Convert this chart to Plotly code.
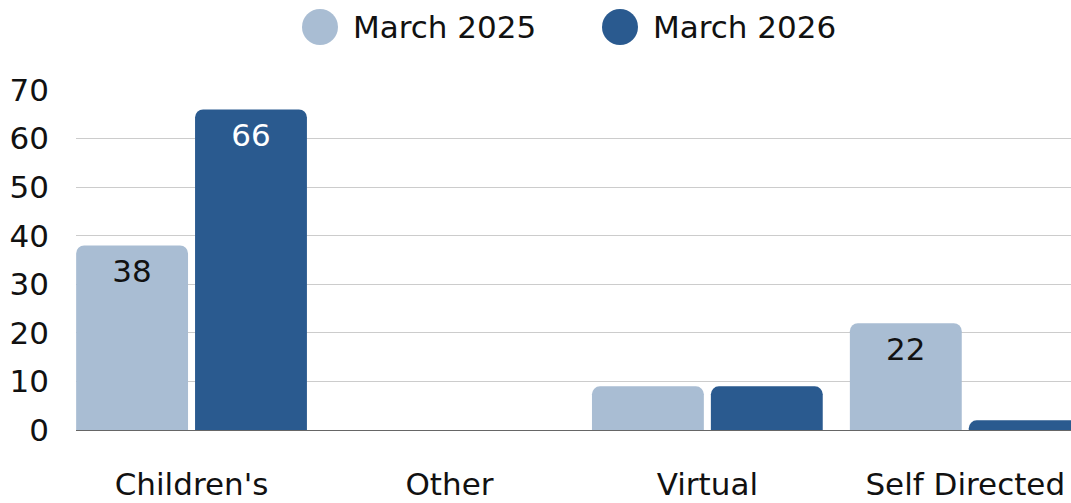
import plotly.graph_objects as go

categories = ["Children's", "Other", "Virtual", "Self Directed"]
series_names = ["March 2025", "March 2026"]
values_2025 = [38, 0, 9, 22]
values_2026 = [66, 0, 9, 2]
y_ticks = [0, 10, 20, 30, 40, 50, 60, 70]

colors = ["#A9BDD3", "#2A5A8F"]
label_colors = ["#111111", "#FFFFFF"]
FONT = "DejaVu Sans"
FS = 31


def labels(vals):
    return [str(v) if v >= 10 else "" for v in vals]


fig = go.Figure()
for name, vals, col, lc in zip(series_names, [values_2025, values_2026], colors, label_colors):
    fig.add_trace(go.Bar(
        x=categories, y=vals, name=name, marker_color=col, marker_line_width=0,
        text=labels(vals), textposition="inside", insidetextanchor="end",
        textfont=dict(family=FONT, size=FS, color=lc), textangle=0,
        showlegend=False,
    ))

fig.update_layout(
    width=1071, height=503,
    margin=dict(l=76, r=0, t=90, b=73),
    paper_bgcolor="white", plot_bgcolor="white",
    barmode="group", bargap=0.078, bargroupgap=0.059,
    barcornerradius=8,
    uniformtext=dict(mode=False),
    xaxis=dict(
        range=[-0.448, 3.41], showgrid=False, showline=True, linecolor="#666666", linewidth=1,
        ticks="outside", ticklen=27, tickcolor="rgba(0,0,0,0)", automargin=False,
        tickfont=dict(family=FONT, size=FS, color="#111111"),
    ),
    yaxis=dict(
        range=[0, 70], tickvals=y_ticks, showgrid=True, gridcolor="#CCCCCC", gridwidth=1,
        zeroline=False, ticklabelstandoff=26, automargin=False,
        tickfont=dict(family=FONT, size=FS, color="#111111"),
    ),
)

# Legend drawn manually with large circular swatches
legend_x = [320, 620]
for name, col, cx in zip(series_names, colors, legend_x):
    fig.add_shape(type="circle", xref="paper", yref="paper",
                  x0=(cx - 18 - 76) / 995, x1=(cx + 18 - 76) / 995,
                  y0=1 + (90 - 27 - 18) / 340, y1=1 + (90 - 27 + 18) / 340,
                  fillcolor=col, line_width=0)
    fig.add_annotation(xref="paper", yref="paper", x=(cx + 31 - 76) / 995, y=1 + (90 - 27) / 340,
                       text=name, showarrow=False, xanchor="left", yanchor="middle",
                       font=dict(family=FONT, size=FS, color="#111111"))

fig.write_html("out.html", config={"displayModeBar": False},
               post_script="document.body.style.margin='0';document.body.style.overflow='hidden';")
